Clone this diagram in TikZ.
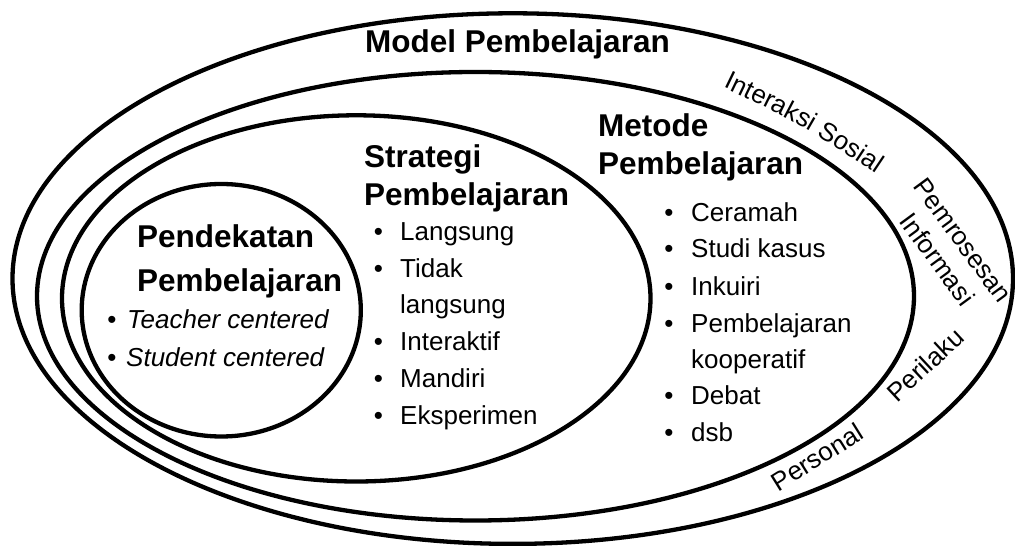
\documentclass[tikz,border=0pt]{standalone}
\usepackage{fontspec}
\setmainfont{Liberation Sans}
\usetikzlibrary{decorations.text}
\newcommand{\sidesize}{\fontsize{26}{32}\selectfont}
\begin{document}
\begin{tikzpicture}[x=1pt,y=1pt,
  ring/.style={line width=4.3pt, draw=black},
  head/.style={font=\fontsize{31.5}{38}\selectfont\bfseries, inner sep=0pt, anchor=base west},
  item/.style={font=\fontsize{26}{36.7}\selectfont, inner sep=0pt, anchor=base west},
  dotnode/.style={font=\fontsize{26}{36.7}\selectfont, inner sep=0pt, anchor=base},
  side/.style={font=\sidesize, inner sep=0pt, align=center}]
\useasboundingbox (0,0) rectangle (1015,546);

% ellipses
\draw[ring] (512.75,267.4) ellipse [x radius=500.25, y radius=265.3];
\draw[ring] (475.5,249.75) ellipse [x radius=438.5, y radius=224.25];
\draw[ring] (356.25,247.6) ellipse [x radius=294.25, y radius=183.1];
\draw[ring] (221.25,235.75) ellipse [x radius=139.55, y radius=126.25];

% headers
\node[head] (model) at (365,493) {Model Pembelajaran};
\node[head] (strat1) at (364,378) {Strategi};
\node[head] (strat2) at (364,340) {Pembelajaran};
\node[head] (met1) at (598,409) {Metode};
\node[head] (met2) at (598,371) {Pembelajaran};
\node[head] (pend1) at (137,298) {Pendekatan};
\node[head] (pend2) at (137,254) {Pembelajaran};

% Pendekatan items
\node[dotnode] (pb1) at (112,217) {•};
\node[item] (pi1) at (127,217) {\itshape Teacher centered};
\node[dotnode] (pb2) at (112,179.3) {•};
\node[item] (pi2) at (126,179.3) {\itshape Student centered};

% Strategi items
\node[dotnode] (sb1) at (378.3,305.5) {•};
\node[item] (si1) at (400,305.5) {Langsung};
\node[dotnode] (sb2) at (378.3,268.6) {•};
\node[item] (si2) at (400,268.6) {Tidak};
\node[item] (si2b) at (400,232) {langsung};
\node[dotnode] (sb3) at (378.3,195.3) {•};
\node[item] (si3) at (400,195.3) {Interaktif};
\node[dotnode] (sb4) at (378.3,158.5) {•};
\node[item] (si4) at (400,158.5) {Mandiri};
\node[dotnode] (sb5) at (378.3,121) {•};
\node[item] (si5) at (400,121) {Eksperimen};

% Metode items
\node[dotnode] (mb1) at (669,324.3) {•};
\node[item] (mi1) at (691,324.3) {Ceramah};
\node[dotnode] (mb2) at (669,288.3) {•};
\node[item] (mi2) at (691,288.3) {Studi kasus};
\node[dotnode] (mb3) at (669,250.3) {•};
\node[item] (mi3) at (691,250.3) {Inkuiri};
\node[dotnode] (mb4) at (669,213.3) {•};
\node[item] (mi4) at (691,213.3) {Pembelajaran};
\node[item] (mi4b) at (691,177) {kooperatif};
\node[dotnode] (mb5) at (669,141) {•};
\node[item] (mi5) at (691,141) {Debat};
\node[dotnode] (mb6) at (669,104) {•};
\node[item] (mi6) at (691,104) {dsb};

% model types
\coordinate (isA) at (723,459);
\coordinate (isC) at (808,418);
\coordinate (isB) at (893,361);
\path[decorate, decoration={text along path, text={|\sidesize|Interaksi Sosial}}]
  (isA) .. controls (isC) .. (isB);
\node[side, rotate=-53.7] (pi) at (950,296) {Pemrosesan\\Informasi};
\node[side, rotate=43, anchor=base] (per) at (931.5,174.5) {Perilaku};
\node[side, rotate=32, anchor=base] (pers) at (822,81) {Personal};
\end{tikzpicture}
\end{document}
